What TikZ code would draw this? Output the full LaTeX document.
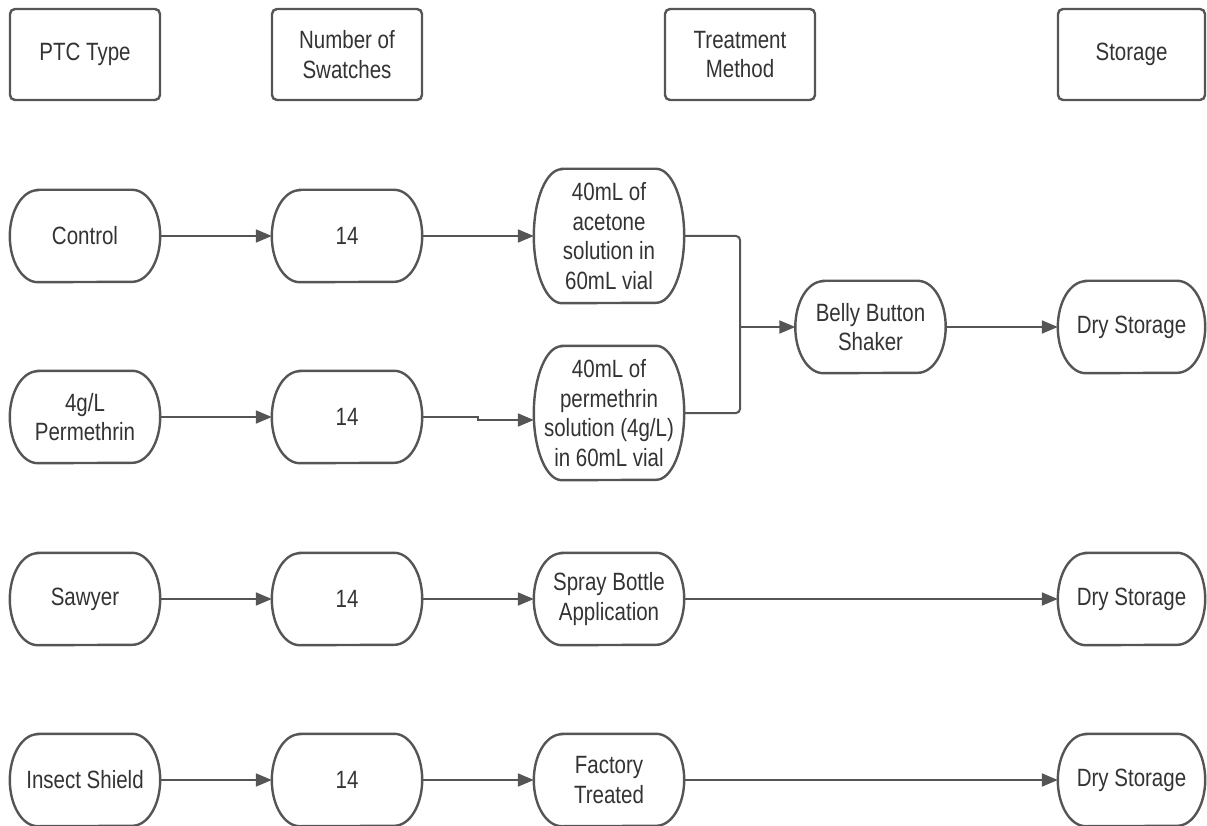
\documentclass[tikz,border=0pt]{standalone}
\usepackage{fontspec}
\setmainfont{Liberation Sans}[FakeStretch=0.82]
\usetikzlibrary{arrows.meta}
\definecolor{ln}{HTML}{555555}
\definecolor{tx}{HTML}{333333}
\tikzset{
 base/.style={rectangle, inner sep=0pt, align=center, text=tx, font=\fontsize{25}{29.6}\selectfont},
 header/.style={base, draw=ln, line width=2.4pt, rounded corners=5pt, minimum width=150pt, minimum height=91pt},
 pill/.style={base, minimum width=150pt, minimum height=92pt},
 tall/.style={base, minimum width=150pt, minimum height=134pt},
 outline/.style={draw=ln, line width=2.4pt},
 arr/.style={draw=ln, line width=2pt, -{Triangle[length=16pt,width=13pt]}},
 link/.style={draw=ln, line width=2pt, rounded corners=4pt},
}
\newcommand\pillshape[2]{\draw[outline] ([xshift=28pt]#1.north west) -- ([xshift=-28pt]#1.north east) arc[start angle=90,end angle=-90,x radius=28pt,y radius=#2] -- ([xshift=28pt]#1.south west) arc[start angle=270,end angle=90,x radius=28pt,y radius=#2] -- cycle;}
\begin{document}
\begin{tikzpicture}
\useasboundingbox (0,0) rectangle (1207pt,-826pt);
% headers
\node[header] (h1) at (85pt,-54.5pt) {PTC Type};
\node[header] (h2) at (347pt,-54.5pt) {Number of\\Swatches};
\node[header] (h3) at (740pt,-54.5pt) {Treatment\\Method};
\node[header, minimum width=147pt] (h4) at (1131.5pt,-54.5pt) {Storage};
% row 1
\node[pill] (ctl) at (85pt,-236pt) {Control};
\node[pill] (n1) at (347pt,-236pt) {14};
\node[tall] (ace) at (609pt,-236pt) {40mL of\\acetone\\solution in\\60mL vial};
\node[pill] (belly) at (870.5pt,-327pt) {Belly Button\\Shaker};
\node[pill, minimum width=147pt] (ds1) at (1131.5pt,-327pt) {Dry Storage};
% row 2
\node[pill] (p4) at (85pt,-417pt) {4g/L\\Permethrin};
\node[pill] (n2) at (347pt,-417pt) {14};
\node[tall] (perm) at (609pt,-413pt) {40mL of\\permethrin\\solution (4g/L)\\in 60mL vial};
% row 3
\node[pill] (saw) at (85pt,-599pt) {Sawyer};
\node[pill] (n3) at (347pt,-599pt) {14};
\node[pill] (spray) at (609pt,-599pt) {Spray Bottle\\Application};
\node[pill, minimum width=147pt] (ds3) at (1131.5pt,-599pt) {Dry Storage};
% row 4
\node[pill] (ins) at (85pt,-780pt) {Insect Shield};
\node[pill] (n4) at (347pt,-780pt) {14};
\node[pill] (fac) at (609pt,-780pt) {Factory\\Treated};
\node[pill, minimum width=147pt] (ds4) at (1131.5pt,-780pt) {Dry Storage};
% outlines
\foreach \n in {ctl,n1,belly,ds1,p4,n2,saw,n3,spray,ds3,ins,n4,fac,ds4} {\pillshape{\n}{46pt}}
\pillshape{ace}{67pt}
\pillshape{perm}{67pt}
% connectors
\draw[arr] (ctl.east) -- (n1.west);
\draw[arr] (n1.east) -- (ace.west);
\coordinate (j) at (740pt,-327pt);
\draw[link] (ace.east) -| (j);
\draw[link] (perm.east) -| (j);
\draw[arr] (j) -- (belly.west);
\draw[arr] (belly.east) -- (ds1.west);
\draw[arr] (p4.east) -- (n2.west);
\draw[arr] (n2.east) -- ++(56pt,0) |- ([yshift=-7pt]perm.west);
\draw[arr] (saw.east) -- (n3.west);
\draw[arr] (n3.east) -- (spray.west);
\draw[arr] (spray.east) -- (ds3.west);
\draw[arr] (ins.east) -- (n4.west);
\draw[arr] (n4.east) -- (fac.west);
\draw[arr] (fac.east) -- (ds4.west);
\end{tikzpicture}
\end{document}
